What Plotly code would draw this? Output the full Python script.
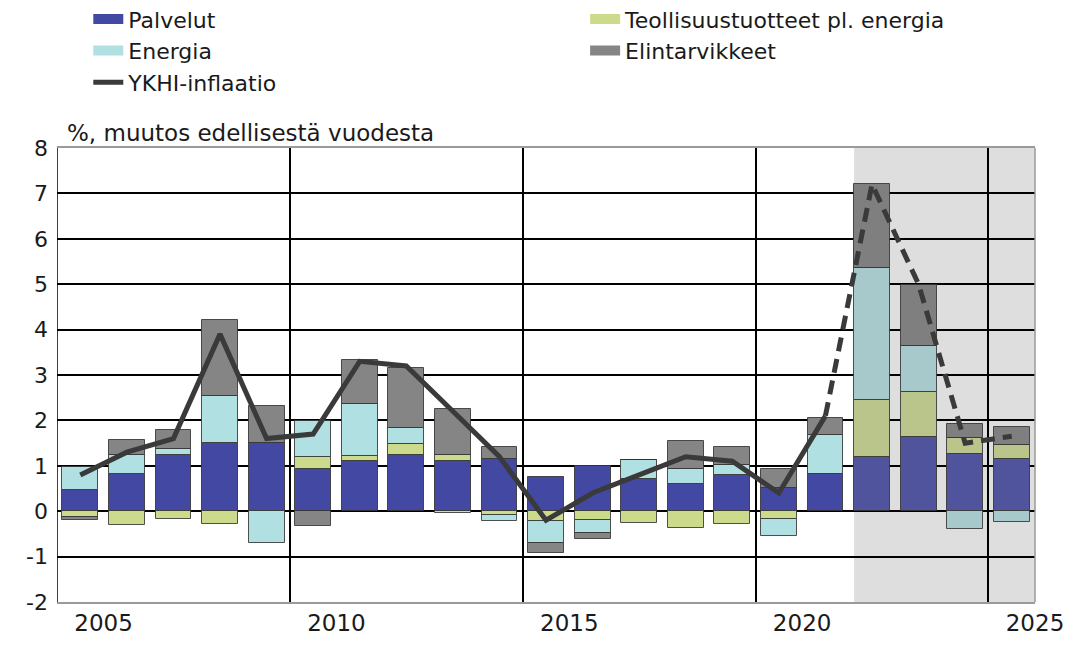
import plotly.graph_objects as go

years = list(range(2005, 2026))
palvelut = [0.47, 0.82, 1.24, 1.51, 1.51, 0.93, 1.10, 1.23, 1.11, 1.15, 0.76, 1.00, 0.72, 0.60, 0.80, 0.52, 0.81, 1.19, 1.64, 1.25, 1.14]
teollisuus = [-0.12, -0.31, -0.18, -0.28, 0.0, 0.27, 0.12, 0.24, 0.12, -0.09, -0.22, -0.19, -0.27, -0.38, -0.29, -0.17, 0.0, 1.27, 0.98, 0.36, 0.32]
energia = [0.50, 0.41, 0.13, 1.02, -0.71, 0.79, 1.15, 0.36, -0.05, -0.12, -0.47, -0.30, 0.41, 0.32, 0.22, -0.38, 0.86, 2.89, 1.01, -0.40, -0.23]
elintarvikkeet = [-0.07, 0.34, 0.42, 1.68, 0.81, -0.32, 0.96, 1.33, 1.02, 0.26, -0.24, -0.12, 0.0, 0.63, 0.40, 0.40, 0.39, 1.86, 1.36, 0.31, 0.39]
ykhi = [0.8, 1.3, 1.6, 3.9, 1.6, 1.7, 3.3, 3.2, 2.2, 1.2, -0.2, 0.4, 0.8, 1.2, 1.1, 0.4, 2.1, 7.2, 5.0, 1.5, 1.65]
first_forecast = 2022
tick_years = [2005, 2010, 2015, 2020, 2025]
y_ticks = list(range(-2, 9))

FONT = "DejaVu Sans, Verdana, sans-serif"

# (normal colour, colour inside the shaded forecast area)
series = [
    ("Palvelut", palvelut, "#4348a3", "#50549c", "legend"),
    ("Teollisuustuotteet pl. energia", teollisuus, "#cbdb8b", "#b9c58a", "legend2"),
    ("Energia", energia, "#b0e0e2", "#a7c9cb", "legend"),
    ("Elintarvikkeet", elintarvikkeet, "#858585", "#7f7f7f", "legend2"),
]

fig = go.Figure()
for name, vals, col, col_fc, leg in series:
    colors = [col_fc if y >= first_forecast else col for y in years]
    fig.add_trace(go.Bar(
        x=years, y=vals, name=name, width=0.77, showlegend=False,
        marker=dict(color=colors, line=dict(color="rgba(50,50,50,0.85)", width=1)),
    ))

# legend entries: thick short lines give the wide swatches of the original
for name, vals, col, col_fc, leg in series:
    fig.add_trace(go.Scatter(
        x=[None], y=[None], mode="lines", name=name, legend=leg,
        line=dict(color=col, width=15),
    ))

split = years.index(first_forecast - 1)
fig.add_trace(go.Scatter(
    x=years[:split + 1], y=ykhi[:split + 1], mode="lines", name="YKHI-inflaatio",
    line=dict(color="#3a3a3a", width=5), legend="legend",
))
fig.add_trace(go.Scatter(
    x=years[split:], y=ykhi[split:], mode="lines", showlegend=False,
    line=dict(color="#3a3a3a", width=5, dash="14px,8px"),
))

# forecast shading
fig.add_shape(type="rect", xref="x", yref="y", x0=first_forecast - 0.385, x1=2025.5,
              y0=-2, y1=8, fillcolor="#dedede", line_width=0, layer="below")
# left axis line and right border
fig.add_shape(type="line", xref="x", yref="paper", x0=2004.5, x1=2004.5, y0=0, y1=1,
              line=dict(color="black", width=1.5))
fig.add_shape(type="line", xref="paper", yref="paper", x0=1, x1=1, y0=0, y1=1,
              line=dict(color="#9a9a9a", width=1.5))

fig.add_annotation(text="%, muutos edellisestä vuodesta", xref="paper", yref="paper",
                   x=0.008, y=1.0, xanchor="left", yanchor="bottom", showarrow=False,
                   font=dict(size=23, color="#1a1a1a", family=FONT))

# page body adds an 8px margin, so the figure is a bit smaller than the window
fig.update_layout(
    width=1067, height=639,
    margin=dict(l=49, r=40, t=140, b=45, autoexpand=False),
    barmode="relative", bargap=0,
    plot_bgcolor="white", paper_bgcolor="white",
    font=dict(family=FONT, size=22, color="#1a1a1a"),
    legend=dict(x=0.032, y=1.33, xanchor="left", yanchor="top", orientation="v",
                font=dict(size=22), bgcolor="rgba(0,0,0,0)", tracegroupgap=0,
                itemwidth=30),
    legend2=dict(x=0.540, y=1.33, xanchor="left", yanchor="top", orientation="v",
                 font=dict(size=22), bgcolor="rgba(0,0,0,0)", tracegroupgap=0,
                 itemwidth=30),
    xaxis=dict(
        range=[2004.5, 2025.5], tickmode="array",
        tickvals=[y + 0.5 for y in tick_years], ticktext=[str(y) for y in tick_years],
        showgrid=False, ticks="", showline=True, linecolor="#9a9a9a", linewidth=1.5,
        mirror=True, zeroline=False, tickfont=dict(size=23), automargin=False,
        minor=dict(tick0=2004.5, dtick=5, showgrid=True, gridcolor="black", gridwidth=1.5),
    ),
    yaxis=dict(
        range=[-2, 8], tickmode="array", tickvals=y_ticks, ticktext=[str(v) for v in y_ticks],
        showgrid=True, gridcolor="black", gridwidth=1.5,
        zeroline=True, zerolinecolor="black", zerolinewidth=1.5, automargin=False,
        showline=False, ticks="", tickfont=dict(size=22), ticklabelstandoff=8,
    ),
)

fig.write_html("out.html")
